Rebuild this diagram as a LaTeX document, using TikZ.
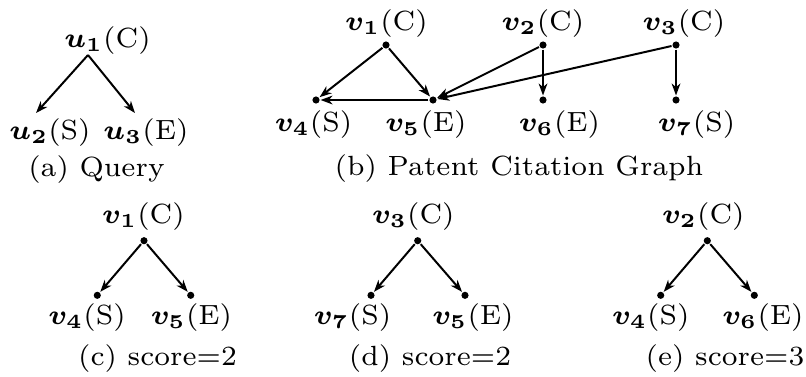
\documentclass[tikz,border=0pt]{standalone}
\usepackage{amsmath,amssymb,bm}
\usetikzlibrary{arrows.meta}

\begin{document}
\begin{tikzpicture}[x=0.252pt,y=0.252pt,line width=0.5pt,
    >={Stealth[length=3pt,width=2.2pt,inset=0.9pt]},
    dot/.style={circle,fill,inner sep=0pt,minimum size=1.8pt},
    lbl/.style={inner sep=0pt,font=\scriptsize}]
  \useasboundingbox (0,0) rectangle (806,376);
  % (a) query
  \coordinate (u1) at (88,321);
  \coordinate (u2) at (36,263);
  \coordinate (u3) at (135,263);
  \node[lbl] (lu1) at (107.5,335) {$\bm{u_1}$(C)};
  \node[lbl] (lu2) at (50,243) {$\bm{u_2}$(S)};
  \node[lbl] (lu3) at (146,243) {$\bm{u_3}$(E)};
  \node[lbl] (capa) at (96.5,206) {(a) Query};
  \draw[->] (u1) -- (u2);
  \draw[->] (u1) -- (u3);
  % (b) citation graph
  \node[dot] (bv1) at (386,331) {};
  \node[dot] (bv2) at (543,331) {};
  \node[dot] (bv3) at (676,331) {};
  \node[dot] (bv4) at (316,276) {};
  \node[dot] (bv5) at (433,276) {};
  \node[dot] (bv6) at (543,276) {};
  \node[dot] (bv7) at (676,276) {};
  \node[lbl] (lb1) at (386.5,352.5) {$\bm{v_1}$(C)};
  \node[lbl] (lb2) at (543,352.5) {$\bm{v_2}$(C)};
  \node[lbl] (lb3) at (684,352.5) {$\bm{v_3}$(C)};
  \node[lbl] (lb4) at (313.5,251.5) {$\bm{v_4}$(S)};
  \node[lbl] (lb5) at (426,251.5) {$\bm{v_5}$(E)};
  \node[lbl] (lb6) at (559.5,251.5) {$\bm{v_6}$(E)};
  \node[lbl] (lb7) at (696.5,251.5) {$\bm{v_7}$(S)};
  \node[lbl] (capb) at (519,207.5) {(b) Patent Citation Graph};
  \draw[->] (bv1) -- (bv4);
  \draw[->] (bv1) -- (bv5);
  \draw[->] (bv5) -- (bv4);
  \draw[->] (bv2) -- (bv5);
  \draw[->] (bv3) -- (bv5);
  \draw[->] (bv2) -- (bv6);
  \draw[->] (bv3) -- (bv7);
  % (c) match 1
  \node[dot] (cv1) at (144,135.3) {};
  \node[dot] (cv4) at (97.3,80.7) {};
  \node[dot] (cv5) at (190.7,80.7) {};
  \node[lbl] (lc1) at (143.5,159) {$\bm{v_1}$(C)};
  \node[lbl] (lc4) at (87,58.5) {$\bm{v_4}$(S)};
  \node[lbl] (lc5) at (191.5,58.5) {$\bm{v_5}$(E)};
  \node[lbl] (capc) at (157.5,17.5) {(c) score=2};
  \draw[->] (cv1) -- (cv4);
  \draw[->] (cv1) -- (cv5);
  % (d) match 2
  \node[dot] (dv3) at (417.7,135.3) {};
  \node[dot] (dv7) at (371,80.7) {};
  \node[dot] (dv5) at (465,80.7) {};
  \node[lbl] (ld3) at (413.3,159) {$\bm{v_3}$(C)};
  \node[lbl] (ld7) at (352.5,58.5) {$\bm{v_7}$(S)};
  \node[lbl] (ld5) at (473,58.5) {$\bm{v_5}$(E)};
  \node[lbl] (capd) at (430,17.5) {(d) score=2};
  \draw[->] (dv3) -- (dv7);
  \draw[->] (dv3) -- (dv5);
  % (e) match 3
  \node[dot] (ev2) at (707.3,135.3) {};
  \node[dot] (ev4) at (660.7,80.7) {};
  \node[dot] (ev6) at (754.3,80.7) {};
  \node[lbl] (le2) at (703.3,159) {$\bm{v_2}$(C)};
  \node[lbl] (le4) at (650.7,58.5) {$\bm{v_4}$(S)};
  \node[lbl] (le6) at (763,58.5) {$\bm{v_6}$(E)};
  \node[lbl] (cape) at (725,17.5) {(e) score=3};
  \draw[->] (ev2) -- (ev4);
  \draw[->] (ev2) -- (ev6);
\end{tikzpicture}
\end{document}
